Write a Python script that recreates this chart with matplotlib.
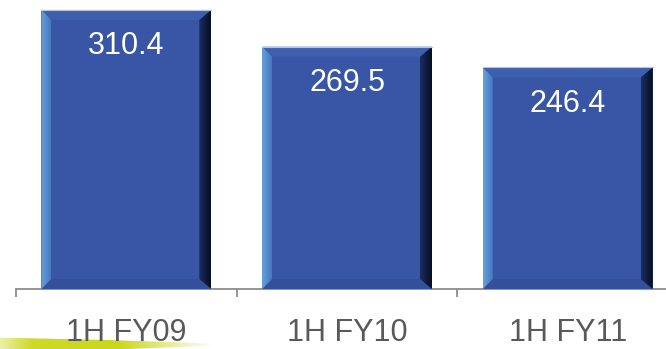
import numpy as np
import matplotlib
matplotlib.use('Agg')
import matplotlib.pyplot as plt
from matplotlib.patches import Polygon

categories = ['1H FY09', '1H FY10', '1H FY11']
values = [310.4, 269.5, 246.4]

face = '#3956a6'
edgeTop = '#3e5eae'
edgeBottom = '#34509c'

plt.rcParams['font.family'] = ['Liberation Sans', 'DejaVu Sans']

W, H = 666, 349
fig = plt.figure(figsize=(W / 100, H / 100), dpi=100)
fig.patch.set_facecolor('white')

pxPerCat = 220.7
pxPerUnit = 0.899
axL, axB, axW = 16, 60, 650
ymax = 320
ax = fig.add_axes([axL / W, axB / H, axW / W, ymax * pxPerUnit / H])
xmax = axW / pxPerCat - 0.5

x = np.arange(len(categories))
barW = 0.77
bars = ax.bar(x, values, width=barW, color=face, zorder=2)

# bevel sizes in data units
bxL = 10 / pxPerCat
bxR = 12 / pxPerCat
by = 10 / pxPerUnit


def gradient_strip(ax, poly, x0, x1, c0, c1):
	ax.add_patch(poly)
	grad = np.linspace(0, 1, 64)[None, :]
	c0 = np.array(matplotlib.colors.to_rgb(c0))
	c1 = np.array(matplotlib.colors.to_rgb(c1))
	img = c0[None, None, :] * (1 - grad[..., None]) + c1[None, None, :] * grad[..., None]
	im = ax.imshow(img, extent=[x0, x1, 0, ymax], aspect='auto', zorder=3, interpolation='bilinear')
	im.set_clip_path(poly)


for b in bars:
	x0 = b.get_x()
	x1 = x0 + b.get_width()
	h = b.get_height()
	top = Polygon([(x0, h), (x1, h), (x1 - bxR, h - by), (x0 + bxL, h - by)], closed=True,
		facecolor=edgeTop, edgecolor='none', zorder=3)
	bottom = Polygon([(x0, 0), (x1, 0), (x1 - bxR, by), (x0 + bxL, by)], closed=True,
		facecolor=edgeBottom, edgecolor='none', zorder=3)
	ax.add_patch(top)
	ax.add_patch(bottom)
	left = Polygon([(x0, 0), (x0, h), (x0 + bxL, h - by), (x0 + bxL, by)], closed=True,
		facecolor='none', edgecolor='none', zorder=3)
	gradient_strip(ax, left, x0, x0 + bxL, '#66a3da', '#4677c0')
	right = Polygon([(x1, h), (x1, 0), (x1 - bxR, by), (x1 - bxR, h - by)], closed=True,
		facecolor='none', edgecolor='none', zorder=3)
	gradient_strip(ax, right, x1 - bxR, x1, '#1c2d62', '#060e22')
	ax.plot([x0, x1], [h, h], color='#b8c4dc', lw=0.8, zorder=4)
	ax.annotate(f'{h:.1f}', (b.get_x() + b.get_width() / 2, h), xytext=(0, -26),
		textcoords='offset points', ha='center', va='center', color='white', fontsize=22, zorder=5)

for s in ['top', 'right', 'left']:
	ax.spines[s].set_visible(False)
ax.spines['bottom'].set_color('#8c8c8c')
ax.spines['bottom'].set_linewidth(1.3)
ax.set_yticks([])
ax.set_xticks([-0.5, 0.5, 1.5, 2.5])
ax.set_xticklabels([])
ax.set_xticks(x, minor=True)
ax.set_xticklabels(categories, minor=True)
ax.tick_params(axis='x', which='major', direction='out', length=6, width=1.3, color='#8c8c8c')
ax.tick_params(axis='x', which='minor', length=0, pad=21, labelsize=22, labelcolor='#595959')

# limits last, so the ticks do not widen them
ax.set_xlim(-0.5, xmax)
ax.set_ylim(0, ymax)

# yellow-green swoosh at the foot
sw = fig.add_axes([0, 0, 215 / W, 12 / H], zorder=-1)
sw.set_axis_off()
sw.set_xlim(0, 1)
sw.set_ylim(0, 1)
alpha = np.interp(np.linspace(0, 1, 200), [0, 0.15, 0.55, 1], [0.35, 0.85, 0.9, 0.0])
rgba = np.zeros((1, 200, 4))
rgba[..., :3] = matplotlib.colors.to_rgb('#c4d300')
rgba[0, :, 3] = alpha
shape = Polygon([(0, 0), (0, 0.95), (0.5, 0.75), (1, 0.45), (1, 0.3), (0.6, 0.0)], closed=True,
	facecolor='none', edgecolor='none', transform=sw.transData)
sw.add_patch(shape)
img = sw.imshow(rgba, extent=[0, 1, 0, 1], aspect='auto', interpolation='bilinear')
img.set_clip_path(shape)

fig.savefig('out.png', dpi=100)
